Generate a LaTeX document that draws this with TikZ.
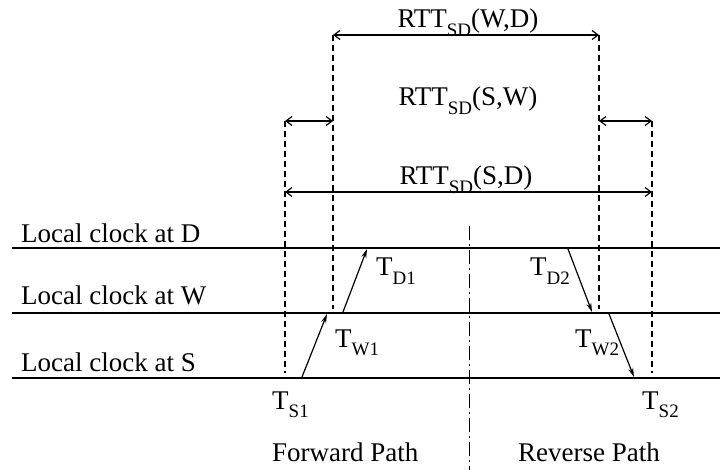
\documentclass[tikz,border=0pt]{standalone}
\usepackage{fontspec}
\setmainfont{Liberation Serif}
\usetikzlibrary{arrows.meta}
\newcommand\sbs[1]{\raisebox{-0.3em}{\fontsize{19}{19}\selectfont #1}}
\tikzset{
  lbl/.style={inner sep=0pt, anchor=base west, font=\fontsize{27}{31}\selectfont},
  ctr/.style={inner sep=0pt, anchor=base, font=\fontsize{27}{31}\selectfont},
  clockline/.style={line width=1.2pt},
  guide/.style={line width=1.1pt, dash pattern=on 6pt off 4pt},
  split/.style={line width=1pt, dash pattern=on 14pt off 4pt on 2pt off 4pt},
  span/.style={line width=1.2pt, {Straight Barb[length=6pt,width=9pt]}-{Straight Barb[length=6pt,width=9pt]}},
  msg/.style={line width=1.2pt, -{Stealth[length=9pt,width=5pt]}}
}
\begin{document}
\begin{tikzpicture}[x=1pt,y=-1pt]
\useasboundingbox (0,0) rectangle (720,470);
% clock lines
\coordinate (Dl) at (12,248); \coordinate (Dr) at (720,248);
\coordinate (Wl) at (12,313); \coordinate (Wr) at (720,313);
\coordinate (Sl) at (12,378); \coordinate (Sr) at (720,378);
\draw[clockline] (Dl) -- (Dr);
\draw[clockline] (Wl) -- (Wr);
\draw[clockline] (Sl) -- (Sr);
% center split
\coordinate (ct) at (469,226); \coordinate (cb) at (469,470);
\draw[split] (ct) -- (cb);
% dashed guides
\coordinate (g1t) at (285,121); \coordinate (g1b) at (285,373);
\coordinate (g2t) at (333,35);  \coordinate (g2b) at (333,309);
\coordinate (g3t) at (599,35);  \coordinate (g3b) at (599,309);
\coordinate (g4t) at (652,121); \coordinate (g4b) at (652,373);
\draw[guide] (g1t) -- (g1b);
\draw[guide] (g2t) -- (g2b);
\draw[guide] (g3t) -- (g3b);
\draw[guide] (g4t) -- (g4b);
% spans
\coordinate (a1) at (333,35);  \coordinate (a2) at (599,35);
\coordinate (b1) at (285,121); \coordinate (b2) at (333,121);
\coordinate (b3) at (599,121); \coordinate (b4) at (652,121);
\coordinate (c1) at (285,192); \coordinate (c2) at (652,192);
\draw[span] (a1) -- (a2);
\draw[span] (b1) -- (b2);
\draw[span] (b3) -- (b4);
\draw[span] (c1) -- (c2);
\node[ctr] (rttwd) at (468,28) {RTT\sbs{SD}(W,D)};
\node[ctr] (rttsw) at (468,106) {RTT\sbs{SD}(S,W)};
\node[ctr] (rttsd) at (466,185) {RTT\sbs{SD}(S,D)};
% messages
\coordinate (m1a) at (302,377); \coordinate (m1b) at (327,314);
\coordinate (m2a) at (343,312); \coordinate (m2b) at (367,249);
\coordinate (m3a) at (568,249); \coordinate (m3b) at (592,312);
\coordinate (m4a) at (609,314); \coordinate (m4b) at (634,377);
\draw[msg] (m1a) -- (m1b);
\draw[msg] (m2a) -- (m2b);
\draw[msg] (m3a) -- (m3b);
\draw[msg] (m4a) -- (m4b);
% labels
\node[lbl] (lD) at (21,243) {Local clock at D};
\node[lbl] (lW) at (21,305) {Local clock at W};
\node[lbl] (lS) at (21,371) {Local clock at S};
\node[lbl] (tD1) at (376,276) {T\sbs{D1}};
\node[lbl] (tW1) at (335,347) {T\sbs{W1}};
\node[lbl] (tD2) at (530,276) {T\sbs{D2}};
\node[lbl] (tW2) at (575,347) {T\sbs{W2}};
\node[lbl] (tS1) at (272,409) {T\sbs{S1}};
\node[lbl] (tS2) at (642,409) {T\sbs{S2}};
\node[lbl] (fwd) at (272,461) {Forward Path};
\node[lbl] (rev) at (518,461) {Reverse Path};
\end{tikzpicture}
\end{document}
